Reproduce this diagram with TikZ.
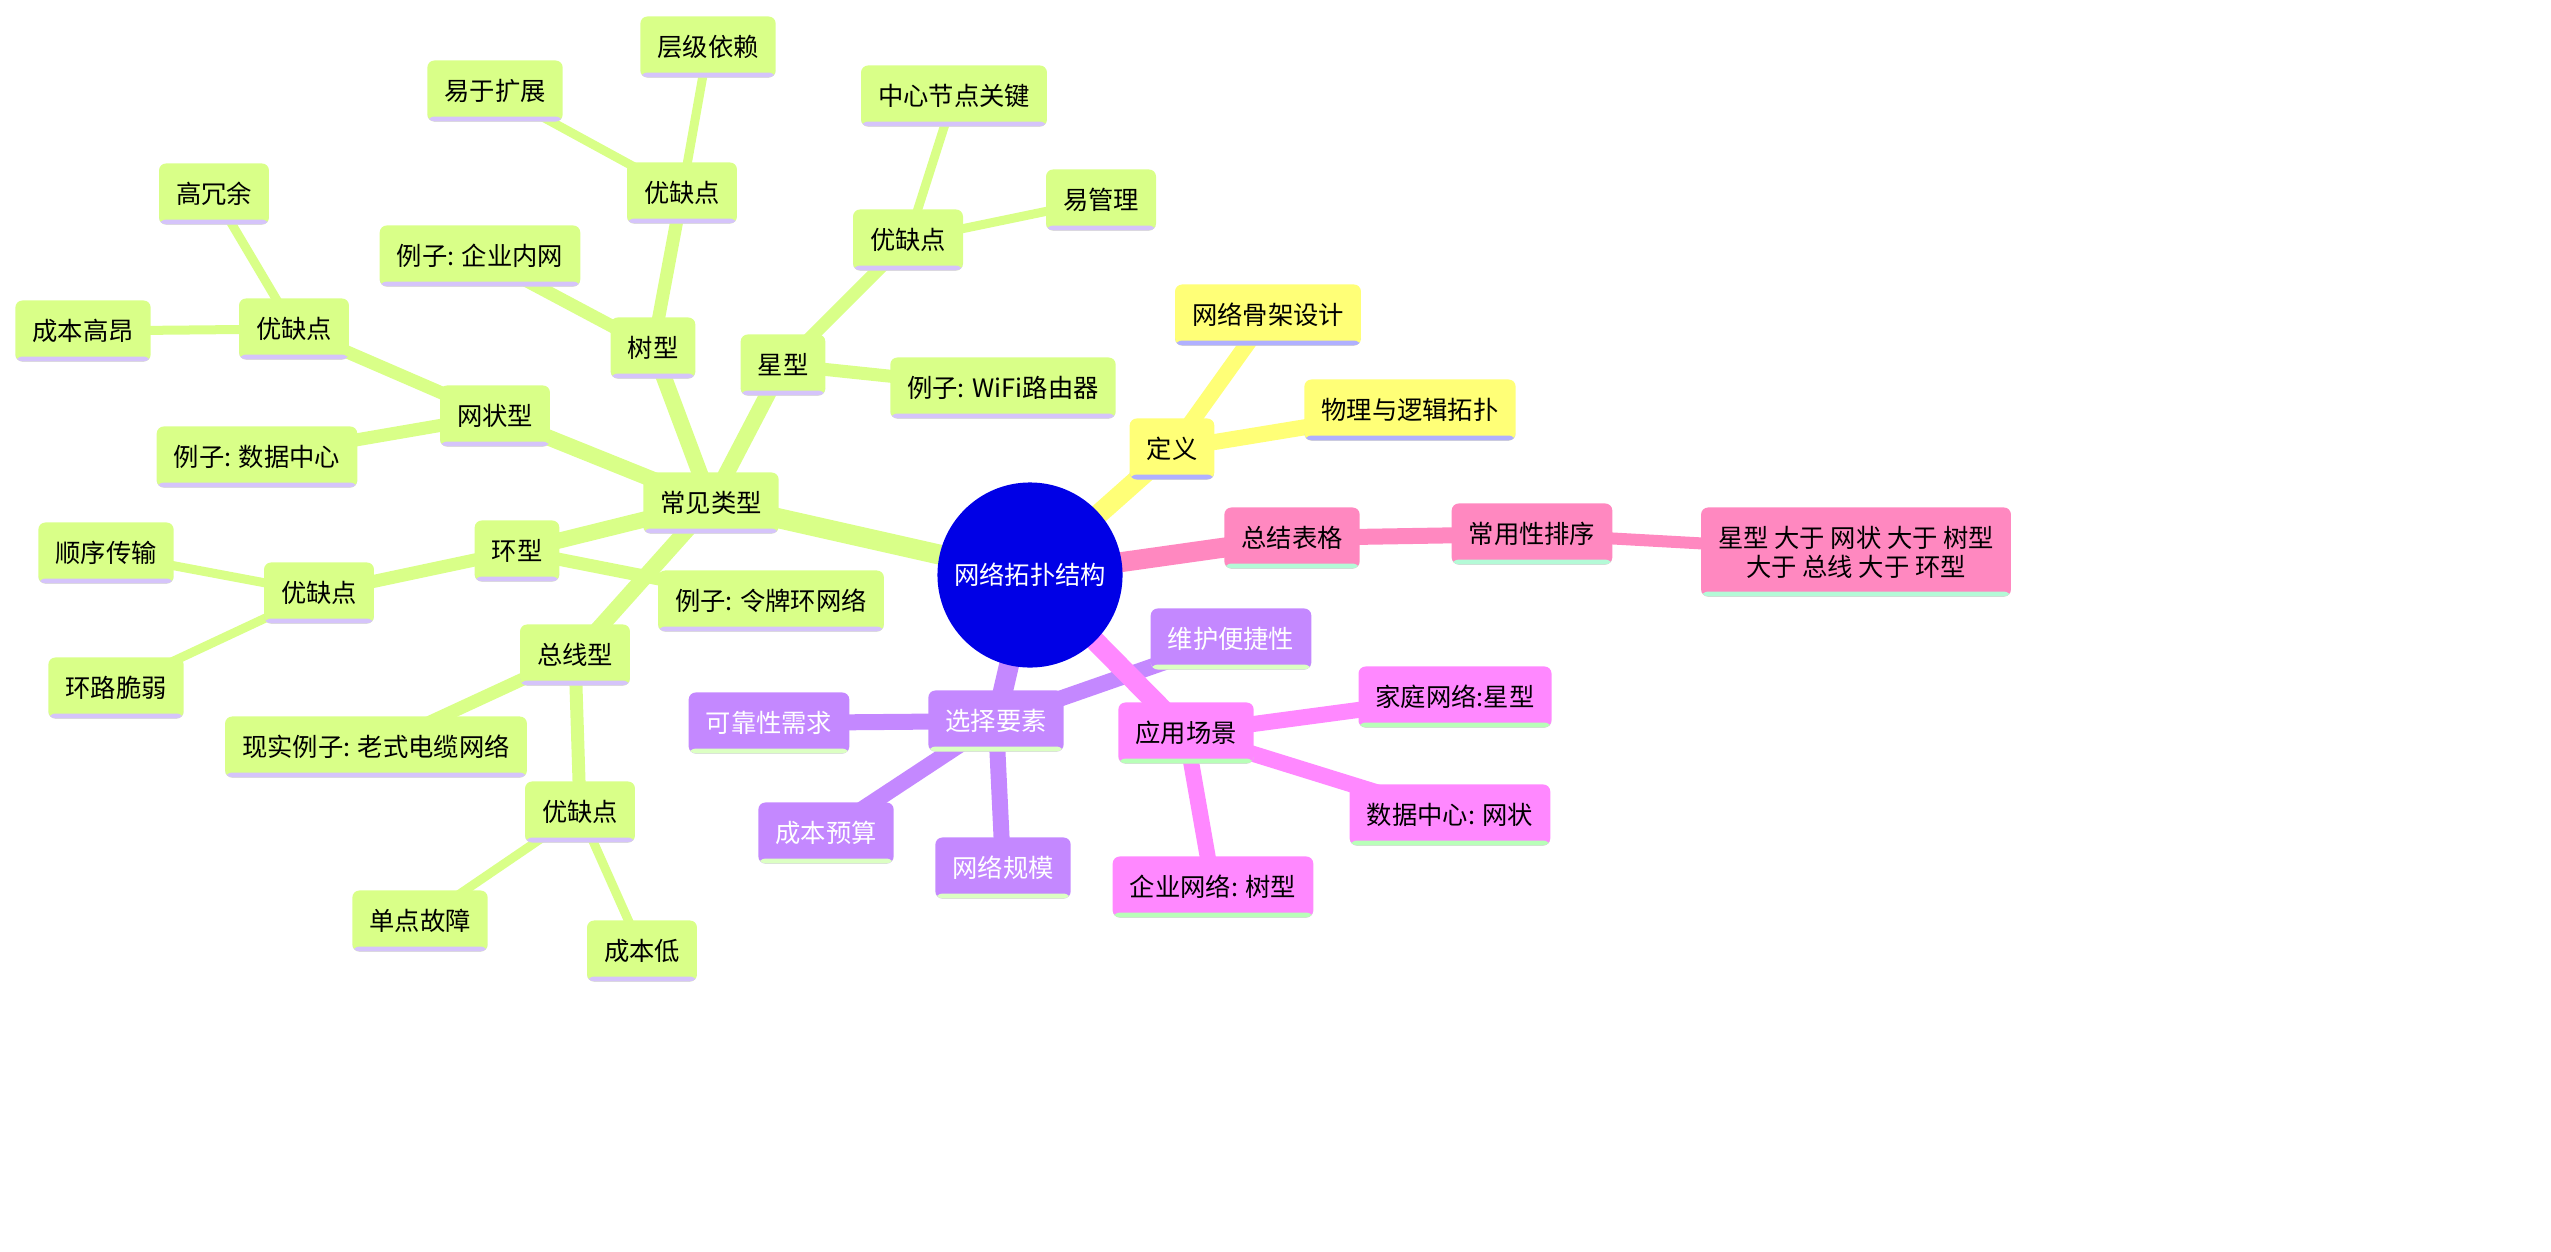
\documentclass[tikz,border=0pt]{standalone}
\usepackage{fontspec}
\setmainfont{Noto Sans CJK SC}
\usetikzlibrary{backgrounds}

\definecolor{rootblue}{RGB}{0,0,230}
\definecolor{greenfill}{RGB}{217,255,136}
\definecolor{greenline}{RGB}{213,196,250}
\definecolor{yellowfill}{RGB}{255,255,119}
\definecolor{yellowline}{RGB}{176,176,255}
\definecolor{pinkfill}{RGB}{255,136,192}
\definecolor{pinkline}{RGB}{180,250,215}
\definecolor{purplefill}{RGB}{196,136,255}
\definecolor{purpleline}{RGB}{220,255,195}
\definecolor{magentafill}{RGB}{255,136,255}
\definecolor{magentaline}{RGB}{184,255,184}

\newcommand{\mapfont}{\fontsize{7.2pt}{8.3pt}\selectfont}

\tikzset{
	topic/.style 2 args={rectangle, rounded corners=0.07cm, fill=#1,
		inner xsep=0.17cm, inner ysep=0pt, minimum height=0.61cm, font=\mapfont,
		path picture={\fill[#2] (path picture bounding box.south west)
			rectangle ([yshift=0.05cm]path picture bounding box.south east);}},
	greenbox/.style={topic={greenfill}{greenline}},
	yellowbox/.style={topic={yellowfill}{yellowline}},
	pinkbox/.style={topic={pinkfill}{pinkline}},
	purplebox/.style={topic={purplefill}{purpleline}, text=white},
	magentabox/.style={topic={magentafill}{magentaline}},
}

\begin{document}
\begin{tikzpicture}[x=0.01cm, y=-0.01cm]
	\useasboundingbox (0,0) rectangle (2551,1251);

	\node[circle, fill=rootblue, minimum size=1.85cm, inner sep=0pt, text=white, font=\mapfont] (root) at (1030,575) {网络拓扑结构};

	% common types
	\node[greenbox] (types) at (711,503) {常见类型};
	\node[greenbox] (tree) at (653,348) {树型};
	\node[greenbox] (treeex) at (480,256) {例子: 企业内网};
	\node[greenbox] (treepc) at (682,193) {优缺点};
	\node[greenbox] (treepca) at (495,91) {易于扩展};
	\node[greenbox] (treepcb) at (708,47) {层级依赖};
	\node[greenbox] (star) at (783,365) {星型};
	\node[greenbox] (starex) at (1003,388) {例子: WiFi路由器};
	\node[greenbox] (starpc) at (908,240) {优缺点};
	\node[greenbox] (stara) at (954,96) {中心节点关键};
	\node[greenbox] (starb) at (1101,200) {易管理};
	\node[greenbox] (mesh) at (495,416) {网状型};
	\node[greenbox] (meshex) at (257,457) {例子: 数据中心};
	\node[greenbox] (meshpc) at (294,329) {优缺点};
	\node[greenbox] (meshpca) at (214,194) {高冗余};
	\node[greenbox] (meshpcb) at (83,331) {成本高昂};
	\node[greenbox] (ring) at (517,551) {环型};
	\node[greenbox] (ringex) at (771,601) {例子: 令牌环网络};
	\node[greenbox] (ringpc) at (319,593) {优缺点};
	\node[greenbox] (ringa) at (106,553) {顺序传输};
	\node[greenbox] (ringb) at (116,688) {环路脆弱};
	\node[greenbox] (bus) at (575,655) {总线型};
	\node[greenbox] (busex) at (376,747) {现实例子: 老式电缆网络};
	\node[greenbox] (buspc) at (580,812) {优缺点};
	\node[greenbox] (busa) at (420,921) {单点故障};
	\node[greenbox] (busb) at (642,951) {成本低};

	% definition
	\node[yellowbox] (def) at (1172,449) {定义};
	\node[yellowbox] (defa) at (1268,315) {网络骨架设计};
	\node[yellowbox] (defb) at (1410,410) {物理与逻辑拓扑};

	% summary
	\node[pinkbox] (summary) at (1292,538) {总结表格};
	\node[pinkbox] (rank) at (1532,534) {常用性排序};
	\node[pinkbox, minimum height=0.89cm, align=center] (order) at (1856,552) {星型 大于 网状 大于 树型\\大于 总线 大于 环型};

	% selection factors
	\node[purplebox] (factor) at (996,721) {选择要素};
	\node[purplebox] (reliab) at (769,723) {可靠性需求};
	\node[purplebox] (budget) at (826,833) {成本预算};
	\node[purplebox] (scale) at (1003,868) {网络规模};
	\node[purplebox] (upkeep) at (1231,639) {维护便捷性};

	% use cases
	\node[magentabox] (usecase) at (1186,733) {应用场景};
	\node[magentabox] (homenet) at (1455,697) {家庭网络:星型};
	\node[magentabox] (dcnet) at (1450,815) {数据中心: 网状};
	\node[magentabox] (entnet) at (1213,887) {企业网络: 树型};

	\begin{pgfonlayer}{background}
		\draw[greenfill, line width=0.2cm] (root.center) -- (types.center);
		\draw[greenfill, line width=0.16cm] (types.center) -- (tree.center);
		\draw[greenfill, line width=0.16cm] (types.center) -- (star.center);
		\draw[greenfill, line width=0.16cm] (types.center) -- (mesh.center);
		\draw[greenfill, line width=0.16cm] (types.center) -- (ring.center);
		\draw[greenfill, line width=0.16cm] (types.center) -- (bus.center);
		\draw[greenfill, line width=0.13cm] (tree.center) -- (treeex.center);
		\draw[greenfill, line width=0.13cm] (tree.center) -- (treepc.center);
		\draw[greenfill, line width=0.09cm] (treepc.center) -- (treepca.center);
		\draw[greenfill, line width=0.09cm] (treepc.center) -- (treepcb.center);
		\draw[greenfill, line width=0.13cm] (star.center) -- (starex.center);
		\draw[greenfill, line width=0.13cm] (star.center) -- (starpc.center);
		\draw[greenfill, line width=0.09cm] (starpc.center) -- (stara.center);
		\draw[greenfill, line width=0.09cm] (starpc.center) -- (starb.center);
		\draw[greenfill, line width=0.13cm] (mesh.center) -- (meshex.center);
		\draw[greenfill, line width=0.13cm] (mesh.center) -- (meshpc.center);
		\draw[greenfill, line width=0.09cm] (meshpc.center) -- (meshpca.center);
		\draw[greenfill, line width=0.09cm] (meshpc.center) -- (meshpcb.center);
		\draw[greenfill, line width=0.13cm] (ring.center) -- (ringex.center);
		\draw[greenfill, line width=0.13cm] (ring.center) -- (ringpc.center);
		\draw[greenfill, line width=0.09cm] (ringpc.center) -- (ringa.center);
		\draw[greenfill, line width=0.09cm] (ringpc.center) -- (ringb.center);
		\draw[greenfill, line width=0.13cm] (bus.center) -- (busex.center);
		\draw[greenfill, line width=0.13cm] (bus.center) -- (buspc.center);
		\draw[greenfill, line width=0.09cm] (buspc.center) -- (busa.center);
		\draw[greenfill, line width=0.09cm] (buspc.center) -- (busb.center);

		\draw[yellowfill, line width=0.2cm] (root.center) -- (def.center);
		\draw[yellowfill, line width=0.16cm] (def.center) -- (defa.center);
		\draw[yellowfill, line width=0.16cm] (def.center) -- (defb.center);

		\draw[pinkfill, line width=0.2cm] (root.center) -- (summary.center);
		\draw[pinkfill, line width=0.16cm] (summary.center) -- (rank.center);
		\draw[pinkfill, line width=0.12cm] (rank.center) -- (order.center);

		\draw[purplefill, line width=0.2cm] (root.center) -- (factor.center);
		\draw[purplefill, line width=0.16cm] (factor.center) -- (reliab.center);
		\draw[purplefill, line width=0.16cm] (factor.center) -- (budget.center);
		\draw[purplefill, line width=0.16cm] (factor.center) -- (scale.center);
		\draw[purplefill, line width=0.16cm] (factor.center) -- (upkeep.center);

		\draw[magentafill, line width=0.2cm] (root.center) -- (usecase.center);
		\draw[magentafill, line width=0.16cm] (usecase.center) -- (homenet.center);
		\draw[magentafill, line width=0.16cm] (usecase.center) -- (dcnet.center);
		\draw[magentafill, line width=0.16cm] (usecase.center) -- (entnet.center);
	\end{pgfonlayer}
\end{tikzpicture}
\end{document}
